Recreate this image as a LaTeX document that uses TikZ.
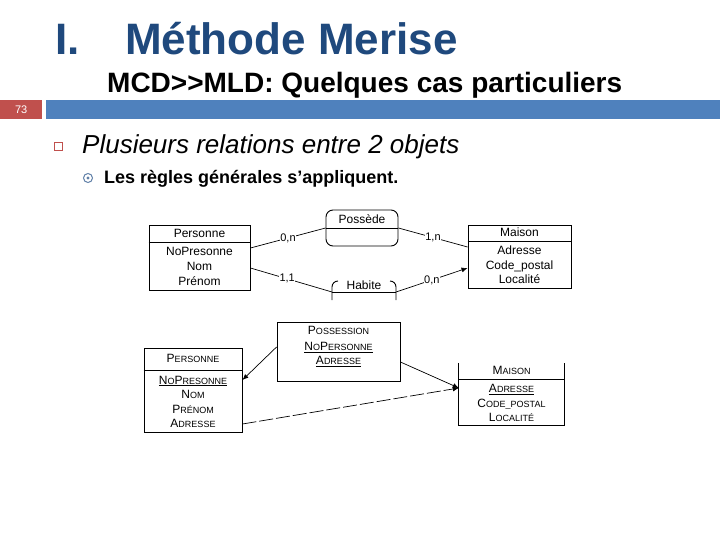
\documentclass[tikz,border=0pt]{standalone}
\usepackage{fontspec}
\setmainfont{Liberation Sans}
\usetikzlibrary{arrows.meta,positioning,calc}
\definecolor{TitleBlue} {RGB}{31,73,125}
\definecolor{BarBlue}   {RGB}{79,129,189}
\definecolor{BarRed}    {RGB}{192,80,77}
\definecolor{BulletGray}{RGB}{96,128,168}
\newcommand{\pcap}[2]{{\fontsize{12}{14}\selectfont #1}{\fontsize{9}{14}\selectfont #2}}
\tikzset{
  entbox/.style={draw,line width=0.9pt,inner sep=0pt},
  lbl/.style={inner sep=0pt,font=\fontsize{12}{14.6}\selectfont,align=center},
  card/.style={fill=white,inner sep=0.6pt,font=\fontsize{11}{11}\selectfont},
  lien/.style={line width=0.7pt},
  fl/.style={lien,-{Latex[length=6pt,width=5pt]}}
}
\begin{document}
\begin{tikzpicture}[x=1pt,y=-1pt]
  \useasboundingbox[fill=white](0,0) rectangle (720,540);
  %% Title and subtitle
  \node[anchor=base west,inner sep=0pt,TitleBlue,font=\fontsize{44}{48}\selectfont\bfseries]
       (num) at (55,55){I.};
  \node[anchor=base west,inner sep=0pt,TitleBlue,font=\fontsize{44}{48}\selectfont\bfseries]
       (titre) at (125,55){Méthode Merise};
  \node[anchor=base west,inner sep=0pt,font=\fontsize{28}{30}\selectfont\bfseries]
       (sstitre) at (107,93){MCD>\kern0pt>MLD: Quelques cas particuliers};
  %% Page bar
  \node[fill=BarRed,minimum width=42pt,minimum height=19pt,inner sep=0pt,anchor=north west,
        text=white,font=\fontsize{11}{11}\selectfont] (page) at (0,100){73};
  \node[fill=BarBlue,minimum width=674pt,minimum height=19pt,inner sep=0pt,anchor=north west]
       (bande) at (46,100){};
  %% Bullets
  \draw[BarRed,line width=1.8pt] (54.5,142.5) rectangle (62.5,150.5);
  \node[anchor=base west,inner sep=0pt,font=\fontsize{26}{28}\selectfont\itshape]
       (puce1) at (82,154){Plusieurs relations entre 2 objets};
  \draw[BulletGray,line width=1pt] (88,178) circle (4.5pt);
  \fill[BulletGray] (88,178) circle (1.6pt);
  \node[anchor=base west,inner sep=0pt,font=\fontsize{18}{20}\selectfont\bfseries]
       (puce2) at (104,184){Les règles générales s'appliquent.};
  %% MCD -- Personne
  \node[entbox,minimum width=101pt,minimum height=65pt] (pers) at (199.5,257.5){};
  \draw[line width=0.9pt] (pers.west |- 0,242) -- (pers.east |- 0,242);
  \node[lbl] (persT) at (199.5,233){Personne};
  \node[lbl] (persA) at (199.5,266.5){NoPresonne\\Nom\\Prénom};
  %% MCD -- Possède
  \node[entbox,rounded corners=7pt,minimum width=72pt,minimum height=36pt] (poss) at (362,228){};
  \draw[line width=0.9pt] (poss.west) -- (poss.east);
  \node[lbl] (possT) at (362,219){Possède};
  %% MCD -- Habite (cut at the bottom)
  \coordinate (habW) at (332,292);
  \coordinate (habE) at (396,292);
  \draw[line width=0.9pt,rounded corners=6pt] (332,300) -- (332,281) -- (338,281);
  \draw[line width=0.9pt,rounded corners=6pt] (390,281) -- (396,281) -- (396,300);
  \draw[line width=0.9pt] (habW) -- (habE);
  \node[lbl] (habT) at (364,285){Habite};
  %% MCD -- Maison
  \node[entbox,minimum width=103pt,minimum height=63pt] (mais) at (519.5,256.5){};
  \draw[line width=0.9pt] (mais.west |- 0,241) -- (mais.east |- 0,241);
  \node[lbl] (maisT) at (519.5,232){Maison};
  \node[lbl] (maisA) at (519.5,265){Adresse\\Code\_postal\\Localité};
  %% MCD links
  \draw[lien] (pers.east |- 0,248) -- node[card]{0,n} (poss.west);
  \draw[lien] (poss.east) -- node[card]{1,n} (mais.west |- 0,247);
  \draw[lien] (pers.east |- 0,268) -- node[card,pos=0.45]{1,1} (habW);
  \draw[fl] (habE) -- node[card]{0,n} (mais.west |- 0,268);
  %% MLD -- POSSESSION
  \node[entbox,minimum width=123pt,minimum height=59pt] (possn) at (338.5,351.5){};
  \node[lbl] (possnT) at (338.5,330){\pcap{P}{OSSESSION}};
  \node[lbl] (possnA) at (338.5,354.5)
       {\underline{\pcap{N}{O}\pcap{P}{ERSONNE}}\\\underline{\pcap{A}{DRESSE}}};
  %% MLD -- PERSONNE
  \node[entbox,minimum width=98pt,minimum height=84pt] (persn) at (193,390){};
  \draw[line width=0.9pt] (persn.west |- 0,370) -- (persn.east |- 0,370);
  \node[lbl] (persnT) at (193,358){\pcap{P}{ERSONNE}};
  \node[lbl] (persnA) at (193,402)
       {\underline{\pcap{N}{O}\pcap{P}{RESONNE}}\\\pcap{N}{OM}\\\pcap{P}{RÉNOM}\\\pcap{A}{DRESSE}};
  %% MLD -- MAISON (top edge cut off)
  \node[minimum width=105pt,minimum height=62pt,inner sep=0pt] (maisn) at (511.5,394){};
  \draw[line width=0.9pt] (maisn.north west) -- (maisn.south west)
       -- (maisn.south east) -- (maisn.north east);
  \draw[line width=0.9pt] (maisn.west |- 0,379) -- (maisn.east |- 0,379);
  \node[lbl] (maisnT) at (511.5,370){\pcap{M}{AISON}};
  \node[lbl] (maisnA) at (511.5,403)
       {\underline{\pcap{A}{DRESSE}}\\\pcap{C}{ODE\_POSTAL}\\\pcap{L}{OCALITÉ}};
  %% MLD links
  \draw[fl] (possn.west |- 0,347) -- (persn.east |- 0,380);
  \draw[fl] (possn.east |- 0,362) -- (maisn.west |- 0,388);
  \draw[fl,dash pattern=on 14pt off 3pt] (persn.east |- 0,424) -- (maisn.west |- 0,388);
\end{tikzpicture}
\end{document}
